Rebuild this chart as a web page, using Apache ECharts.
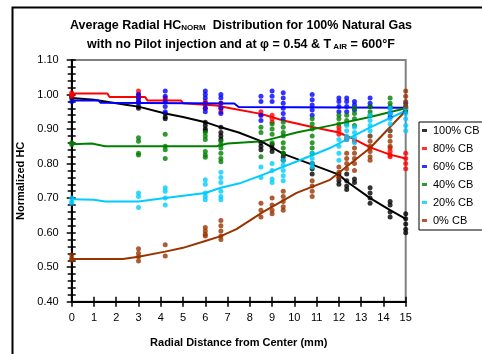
<!DOCTYPE html>
<html><head><meta charset="utf-8">
<script src="https://cdn.jsdelivr.net/npm/echarts@6/dist/echarts.min.js"></script>
<style>html,body{margin:0;padding:0;background:#fff}#c{width:482px;height:354px}</style>
</head><body><div id="c"></div>
<script>
// ---- data (x in mm, y = normalized HC) ----
const seriesNames = ['100% CB','80% CB','60% CB','40% CB','20% CB','0% CB'];
const colors = ['#000000','#FF0000','#0000FF','#008000','#00CCFF','#993300'];
const xTicks = [0,1,2,3,4,5,6,7,8,9,10,11,12,13,14,15];
const yTicks = [0.40,0.50,0.60,0.70,0.80,0.90,1.00,1.10];

const pts100 = [[0,0.99],[0,0.995],[3,0.965],[3,0.96],[4.2,0.945],[4.2,0.935],[4.2,0.93],
 [6,0.92],[6,0.91],[6,0.90],[6,0.895],[6.7,0.905],[6.7,0.89],[6.7,0.88],[6.7,0.87],
 [8.5,0.86],[8.5,0.85],[8.5,0.84],[9,0.855],[9,0.845],[9,0.835],[9.5,0.83],[9.5,0.82],[9.5,0.81],
 [10.8,0.80],[10.8,0.785],[10.8,0.77],[12,0.77],[12,0.76],[12,0.75],[12,0.74],
 [12.35,0.77],[12.35,0.75],[12.35,0.735],[12.35,0.725],[12.7,0.755],[12.7,0.745],
 [13.4,0.73],[13.4,0.715],[13.4,0.70],[13.4,0.685],[14.3,0.69],[14.3,0.68],[14.3,0.66],[14.3,0.645],
 [15,0.655],[15,0.64],[15,0.625],[15,0.61],[15,0.60]];
const pts80 = [[0,1.005],[0,1.0],[0,0.995],[3,1.01],[3,1.0],[3,0.99],[3,0.98],[4.2,0.99],[4.2,0.985],
 [6,0.98],[6,0.97],[6,0.96],[6.7,0.975],[6.7,0.96],[6.7,0.95],[8.5,0.95],[8.5,0.94],
 [9,0.94],[9,0.93],[9,0.92],[12,0.905],[12,0.895],[12,0.885],[12.35,0.875],[12.35,0.87],[12.7,0.865],
 [13.4,0.845],[14.3,0.845],[14.3,0.835],[14.3,0.825],[14.3,0.82],
 [15,0.83],[15,0.815],[15,0.80],[15,0.785]];
const pts60 = [[0,0.98],[3,1.0],[3,0.99],[3,0.98],[3,0.975],[4.2,1.01],[4.2,0.995],[4.2,0.98],[4.2,0.965],[4.2,0.95],
 [6,1.01],[6,1.0],[6,0.99],[6,0.975],[6,0.96],[6,0.95],[6.7,1.0],[6.7,0.99],[6.7,0.975],[6.7,0.96],[6.7,0.945],
 [8.5,0.995],[8.5,0.98],[8.5,0.94],[8.5,0.925],[9,1.01],[9,0.995],[9,0.98],
 [9.5,1.005],[9.5,0.99],[9.5,0.975],[9.5,0.96],[9.5,0.945],[9.5,0.93],
 [10.8,1.0],[10.8,0.985],[10.8,0.97],[10.8,0.955],[10.8,0.94],
 [12,0.99],[12,0.98],[12,0.965],[12,0.95],[12.35,0.99],[12.35,0.98],[12.35,0.965],[12.35,0.95],
 [12.7,0.98],[12.7,0.97],[12.7,0.955],[13.4,0.99],[13.4,0.975],[13.4,0.965],
 [14.3,0.96],[14.3,0.945],[14.3,0.935],[15,0.975],[15,0.96],[15,0.95]];
const pts40 = [[0,0.855],[0,0.86],[3,0.875],[3,0.865],[3,0.83],[3,0.825],[4.2,0.885],[4.2,0.85],[4.2,0.84],[4.2,0.815],
 [6,0.89],[6,0.88],[6,0.87],[6,0.835],[6,0.825],[6,0.818],[6.7,0.865],[6.7,0.855],[6.7,0.845],[6.7,0.83],[6.7,0.815],[6.7,0.805],
 [8.5,0.905],[8.5,0.89],[8.5,0.82],[9,0.915],[9,0.90],[9,0.885],[9,0.86],
 [9.5,0.92],[9.5,0.905],[9.5,0.89],[9.5,0.88],[9.5,0.86],[9.5,0.845],[9.5,0.83],
 [10.8,0.93],[10.8,0.915],[10.8,0.90],[10.8,0.88],[10.8,0.86],[10.8,0.845],[10.8,0.83],
 [12,0.94],[12,0.93],[12,0.915],[12.35,0.94],[12.35,0.925],[12.35,0.915],
 [12.7,0.96],[12.7,0.945],[12.7,0.93],[12.7,0.91],[13.4,0.965],[13.4,0.95],[13.4,0.94],
 [14.3,0.99],[14.3,0.975],[14.3,0.965],[15,0.965],[15,0.955]];
const pts20 = [[0,0.70],[0,0.69],[0,0.685],[3,0.715],[3,0.705],[3,0.673],[4.2,0.73],[4.2,0.72],[4.2,0.70],[4.2,0.68],
 [6,0.753],[6,0.74],[6,0.715],[6,0.705],[6,0.695],[6.7,0.775],[6.7,0.76],[6.7,0.745],[6.7,0.72],[6.7,0.705],[6.7,0.695],
 [8.5,0.79],[8.5,0.76],[9,0.80],[9,0.78],[9,0.755],[9,0.745],[9.5,0.81],[9.5,0.795],[9.5,0.78],[9.5,0.765],[9.5,0.75],
 [10.8,0.83],[10.8,0.815],[10.8,0.80],[10.8,0.79],[12,0.87],[12,0.85],[12,0.83],[12,0.81],
 [12.35,0.91],[12.35,0.895],[12.35,0.88],[12.35,0.87],[12.7,0.905],[12.7,0.89],[12.7,0.875],[12.7,0.86],
 [13.4,0.94],[13.4,0.925],[13.4,0.91],[13.4,0.895],[13.4,0.88],[14.3,0.96],[14.3,0.945],[14.3,0.93],[14.3,0.915],[14.3,0.895],
 [15,0.96],[15,0.945],[15,0.93],[15,0.91],[15,0.895]];
const pts0 = [[0,0.535],[0,0.525],[0,0.52],[3,0.553],[3,0.54],[3,0.53],[3,0.518],[4.2,0.565],[4.2,0.532],
 [6,0.615],[6,0.605],[6,0.595],[6,0.59],[6.7,0.635],[6.7,0.62],[6.7,0.605],[6.7,0.59],[6.7,0.58],
 [8.5,0.685],[8.5,0.665],[8.5,0.645],[9,0.70],[9,0.68],[9,0.665],[9,0.655],
 [9.5,0.72],[9.5,0.705],[9.5,0.69],[9.5,0.675],[9.5,0.665],[10.8,0.75],[10.8,0.735],[10.8,0.72],[10.8,0.705],
 [12,0.79],[12,0.775],[12,0.76],[12.35,0.83],[12.35,0.815],[12.35,0.80],[12.35,0.785],
 [12.7,0.845],[12.7,0.83],[12.7,0.815],[12.7,0.80],[12.7,0.78],
 [13.4,0.88],[13.4,0.865],[13.4,0.85],[13.4,0.835],[13.4,0.82],[13.4,0.81],
 [14.3,0.895],[14.3,0.88],[14.3,0.865],[14.3,0.85],[15,1.01],[15,0.995],[15,0.98],[15,0.965]];

// trend lines
const fit100 = [[0,0.99],[1,0.985],[2.5,0.97],[3,0.965],[4.2,0.945],[5,0.935],[6,0.92],[6.7,0.905],[7.5,0.89],[8.5,0.865],[9.5,0.828],[10.8,0.797],[12,0.768],[12.35,0.748],[13.4,0.70],[14.3,0.665],[15,0.64]];
const fit80 = [[0,1.003],[1.6,1.003],[1.7,0.993],[3.3,0.993],[3.4,0.983],[4.9,0.983],[5,0.975],[6.5,0.968],[7,0.962],[8.5,0.944],[9.5,0.925],[10.8,0.906],[12,0.89],[12.7,0.87],[13.4,0.847],[14.3,0.826],[15,0.815]];
const fit60 = [[0,0.983],[1.2,0.983],[1.3,0.976],[7.3,0.974],[7.5,0.964],[15,0.962]];
const fit40 = [[0,0.856],[0.9,0.858],[1.5,0.85],[6.5,0.85],[7,0.858],[8.6,0.865],[10.1,0.89],[11.6,0.91],[13.4,0.935],[15,0.96]];
const fit20 = [[0,0.697],[1,0.695],[1.5,0.69],[3,0.69],[4.2,0.70],[6,0.715],[6.7,0.73],[7.6,0.744],[8.6,0.768],[10.1,0.806],[11.6,0.845],[13.4,0.905],[15,0.953]];
const fit0 = [[0,0.524],[2.3,0.524],[3,0.53],[4.2,0.545],[5,0.556],[6,0.576],[6.7,0.59],[7.4,0.61],[8.6,0.66],[10.1,0.715],[11.6,0.753],[13.4,0.845],[15,0.953]];

const pointSets = [pts100, pts80, pts60, pts40, pts20, pts0];
const fitSets = [fit100, fit80, fit60, fit40, fit20, fit0];

const FONT = '"Liberation Sans", Arial, sans-serif';
const chart = echarts.init(document.getElementById('c'), null, {renderer:'canvas'});

const series = [];
fitSets.forEach((d,i)=>{
  series.push({type:'line', name:'fit'+i, data:d, showSymbol:false, symbol:'none',
    lineStyle:{color:colors[i], width:2}, z:3, silent:true, animation:false});
});
pointSets.forEach((d,i)=>{
  series.push({type:'scatter', name:seriesNames[i], data:d, symbol:'circle', symbolSize:5,
    itemStyle:{color:colors[i]}, z:4, animation:false});
});

const lbl = {color:'#000', fontFamily:FONT, fontSize:11};
chart.setOption({
  animation:false,
  title:{
    left:'center', top:11,
    text:'{a|Average Radial HC}{s|NORM}{a|  Distribution for 100% Natural Gas}\n{a|with no Pilot injection and at \u03C6 = 0.54 & T}{s| AIR}{a| = 600\u00B0F}',
    textStyle:{rich:{
      a:{fontFamily:FONT, fontSize:12.5, fontWeight:'bold', color:'#000', lineHeight:19},
      s:{fontFamily:FONT, fontSize:8, fontWeight:'bold', color:'#000', lineHeight:19, verticalAlign:'middle', padding:[5,0,0,0]}
    }}
  },
  legend:{
    orient:'vertical', left:419, top:122, data:seriesNames,
    icon:'rect', itemWidth:5, itemHeight:3, itemGap:5,
    padding:[2,10,3,3], borderColor:'#000', borderWidth:1, backgroundColor:'#fff',
    textStyle:{fontFamily:FONT, fontSize:11, color:'#000', lineHeight:13, padding:[0,0,0,1]}
  },
  grid:{left:71.7, right:76.3, top:60, bottom:52.3, show:true, borderColor:'#808080', borderWidth:2, backgroundColor:'#fff'},
  xAxis:[{
    type:'value', min:0, max:15, interval:1,
    name:'Radial Distance from Center (mm)', nameLocation:'middle', nameGap:36,
    nameTextStyle:{fontFamily:FONT, fontSize:11, fontWeight:'bold', color:'#000'},
    axisLine:{lineStyle:{color:'#000', width:2}},
    axisTick:{show:true, length:5, lineStyle:{color:'#000', width:1.5}},
    axisLabel:Object.assign({margin:11, formatter:v=>xTicks.includes(v)?String(v):''}, lbl),
    splitLine:{show:false}
  },{
    type:'value', min:0, max:15, interval:1, position:'bottom',
    axisLine:{show:false}, axisTick:{show:true, inside:true, length:5, lineStyle:{color:'#000', width:1.5}},
    axisLabel:{show:false}, splitLine:{show:false}
  }],
  yAxis:[{
    type:'value', min:0.4, max:1.1, interval:0.1,
    name:'Normalized HC', nameLocation:'middle', nameGap:45,
    nameTextStyle:{fontFamily:FONT, fontSize:11, fontWeight:'bold', color:'#000'},
    axisLine:{show:true, lineStyle:{color:'#000', width:2}},
    axisTick:{show:true, length:5, lineStyle:{color:'#000', width:1.5}},
    minorTick:{show:true, splitNumber:5, length:4, lineStyle:{color:'#000', width:1.5}},
    axisLabel:Object.assign({margin:13, formatter:v=>v.toFixed(2)}, lbl),
    splitLine:{show:false}
  },{
    type:'value', min:0.4, max:1.1, interval:0.1, position:'left',
    axisLine:{show:false},
    axisTick:{show:true, inside:true, length:4, lineStyle:{color:'#000', width:1.5}},
    minorTick:{show:true, splitNumber:5, length:4, lineStyle:{color:'#000', width:1.5}},
    axisLabel:{show:false}, splitLine:{show:false}
  }],
  graphic:[{type:'rect', left:10, top:5, shape:{width:490, height:360}, style:{fill:null, stroke:'#000', lineWidth:2}, silent:true, z:-1}],
  series:series
});
</script></body></html>
